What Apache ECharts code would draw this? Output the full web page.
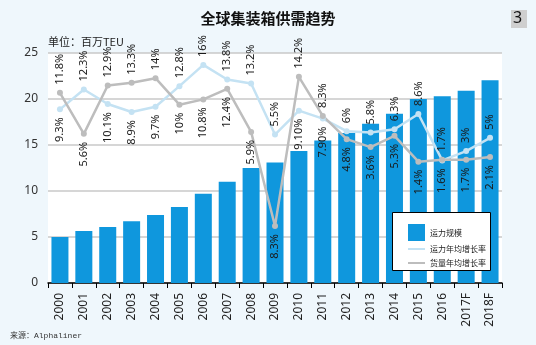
<!DOCTYPE html>
<html><head><meta charset="utf-8">
<script src="https://cdn.jsdelivr.net/npm/echarts@6/dist/echarts.min.js"></script>
<style>html,body{margin:0;padding:0;background:#eff7fc;}#c{width:536px;height:345px;}</style>
</head><body><div id="c"></div>
<script>
var years = ['2000','2001','2002','2003','2004','2005','2006','2007','2008','2009','2010','2011','2012','2013','2014','2015','2016','2017F','2018F'];
var capacity = [5.0,5.65,6.1,6.7,7.4,8.25,9.7,11.0,12.5,13.1,14.35,15.5,16.3,17.3,18.4,20.0,20.3,20.9,22.05];
var capGrowth = [9.3,12.3,10.1,8.9,9.7,12.8,16,13.8,13.2,5.5,9.1,7.9,6,5.8,6.3,8.6,1.6,3,5];
var volGrowth = [11.8,5.6,12.9,13.3,14,10,10.8,12.4,5.9,-8.3,14.2,8.3,4.8,3.6,5.3,1.4,1.7,1.7,2.1];
var capLabels = ['9.3%','12.3%','10.1%','8.9%','9.7%','12.8%','16%','13.8%','13.2%','5.5%','9.10%','7.90%','6%','5.8%','6.3%','8.6%','1.6%','3%','5%'];
var volLabels = ['11.8%','5.6%','12.9%','13.3%','14%','10%','10.8%','12.4%','5.9%','8.3%','14.2%','8.3%','4.8%','3.6%','5.3%','1.4%','1.7%','1.7%','2.1%'];
var yTicks = [0,5,10,15,20,25];

var FONT = '"Noto Sans", "Noto Sans CJK SC", sans-serif';
function lbl(isTop, text){
  return {show:true, position: isTop?'top':'bottom', rotate:90, align: isTop?'left':'right',
    verticalAlign:'middle', distance:5, formatter:text, color:'#1a1a1a', fontSize:11, fontFamily:FONT};
}
var capData = capGrowth.map(function(v,i){ return {value:v, label: lbl(v>=volGrowth[i], capLabels[i])}; });
var volData = volGrowth.map(function(v,i){ return {value:v, label: lbl(v>capGrowth[i], volLabels[i])}; });

var chart = echarts.init(document.getElementById('c'));
chart.setOption({
  backgroundColor:'#eff7fc',
  animation:false,
  textStyle:{fontFamily:FONT},
  grid:{left:48,right:34,top:53,bottom:62,show:true,backgroundColor:'#ffffff',borderWidth:0},
  xAxis:{type:'category',data:years,boundaryGap:true,
    axisLine:{lineStyle:{color:'#000',width:1.5}},
    axisTick:{show:true,alignWithLabel:false,length:5,lineStyle:{color:'#000'}},
    axisLabel:{rotate:90,color:'#222',fontSize:12,margin:10,fontFamily:FONT}},
  yAxis:[{type:'value',min:yTicks[0],max:yTicks[yTicks.length-1],interval:5,
    axisLine:{show:false},axisTick:{show:false},
    axisLabel:{color:'#333',fontSize:12,margin:10,fontFamily:FONT},
    splitLine:{lineStyle:{color:'#c8c8c8',width:1.5}}},
    {type:'value',min:-16.9,max:17.8,show:false,splitLine:{show:false}}],
  legend:[{data:[{name:'运力规模',icon:'rect'}],left:403,top:219,itemWidth:17,itemHeight:17,
      textStyle:{fontSize:8,color:'#222',fontFamily:'"Noto Sans CJK SC", sans-serif'},itemGap:4,z:5},
    {data:[{name:'运力年均增长率',icon:'rect'},{name:'货量年均增长率',icon:'rect'}],orient:'vertical',left:403,top:240,
      itemWidth:17,itemHeight:2,itemGap:6,textStyle:{fontSize:8,color:'#222',fontFamily:'"Noto Sans CJK SC", sans-serif'},z:5}],
  graphic:[
    {type:'rect',left:392,top:212,shape:{width:98,height:58},style:{fill:'#fff',stroke:'#000',lineWidth:1},z:4},
    {type:'text',left:'center',top:11,style:{text:'全球集装箱供需趋势',fontSize:15,fontWeight:'bold',fill:'#111',fontFamily:'"Noto Sans CJK SC", sans-serif'},z:5},
    {type:'rect',left:511,top:10,shape:{width:16,height:18},style:{fill:'#cfcfcf'},z:5},
    {type:'text',left:513,top:10,style:{text:'3',fontSize:16,fill:'#111',fontFamily:FONT},z:6},
    {type:'text',left:48,top:36,style:{text:'单位：百万TEU',fontSize:11,fill:'#222',fontFamily:'"Noto Sans CJK SC", sans-serif'},z:5},
    {type:'text',left:10,top:332,style:{text:'来源：Alphaliner',fontSize:8,fill:'#333',fontFamily:'"Liberation Mono", "Noto Sans CJK SC", monospace'},z:5}
  ],
  series:[
    {name:'运力规模',type:'bar',data:capacity,barWidth:17,itemStyle:{color:'#0f97dd'},z:2},
    {name:'运力年均增长率',type:'line',yAxisIndex:1,data:capData,symbol:'circle',symbolSize:6,
      lineStyle:{color:'#c4e2f3',width:2.5},itemStyle:{color:'#c4e2f3'},z:3},
    {name:'货量年均增长率',type:'line',yAxisIndex:1,data:volData,symbol:'circle',symbolSize:6,
      lineStyle:{color:'#bdbdbd',width:2.5},itemStyle:{color:'#bdbdbd'},z:3}
  ]
});
</script></body></html>
